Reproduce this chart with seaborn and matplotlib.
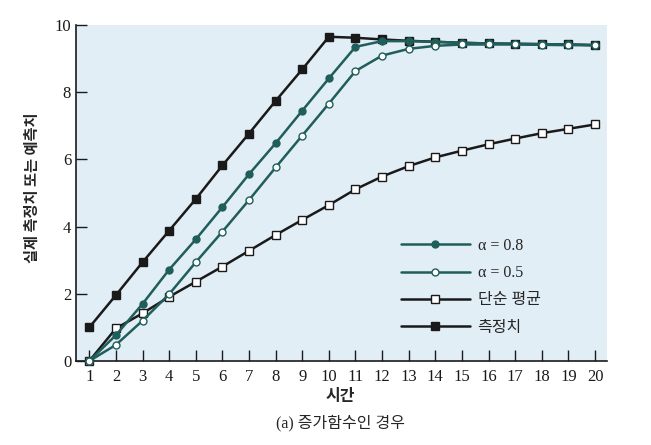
import matplotlib
matplotlib.use("Agg")
import matplotlib.pyplot as plt
import seaborn as sns

# 시간 (x axis)
time = list(range(1, 21))

# 측정치
measured = [1.0, 1.96, 2.94, 3.88, 4.82, 5.82, 6.77, 7.74, 8.68, 9.65,
            9.62, 9.57, 9.53, 9.50, 9.47, 9.45, 9.44, 9.43, 9.42, 9.40]
# 지수평활 alpha = 0.8
alpha08 = [0.0, 0.77, 1.70, 2.72, 3.62, 4.58, 5.56, 6.48, 7.45, 8.41,
           9.35, 9.52, 9.52, 9.50, 9.47, 9.45, 9.44, 9.43, 9.42, 9.40]
# 지수평활 alpha = 0.5
alpha05 = [0.0, 0.48, 1.20, 1.99, 2.94, 3.85, 4.79, 5.76, 6.71, 7.66,
           8.63, 9.09, 9.29, 9.38, 9.42, 9.42, 9.42, 9.41, 9.40, 9.40]
# 단순 평균
simple_avg = [0.0, 0.97, 1.42, 1.91, 2.36, 2.81, 3.28, 3.75, 4.20, 4.64,
              5.11, 5.49, 5.80, 6.06, 6.26, 6.45, 6.62, 6.78, 6.91, 7.04]

labels = ["α = 0.8", "α = 0.5", "단순 평균", "측정치"]
x_ticks = list(range(1, 21))
y_ticks = [0, 2, 4, 6, 8, 10]

TEAL = "#1f5e5a"
DARK = "#1a1a1a"

sns.set_style("ticks")
plt.rcParams["font.family"] = ["Liberation Serif", "Noto Sans CJK KR"]

fig = plt.figure(figsize=(6.51, 4.45), dpi=100)
ax = fig.add_axes([76 / 651, 1 - 361 / 445, (607 - 76) / 651, (361 - 25) / 445])
ax.set_facecolor("#e2eef6")

common = dict(ax=ax, linewidth=1.8, clip_on=False, markeredgewidth=1.0)

# draw order: measured under the forecasts
sns.lineplot(x=time, y=measured, color=DARK, marker="s", markersize=6,
             markerfacecolor=DARK, markeredgecolor=DARK, label=labels[3],
             zorder=3, **common)
sns.lineplot(x=time, y=simple_avg, color=DARK, marker="s", markersize=6,
             markerfacecolor="white", markeredgecolor=DARK, label=labels[2],
             zorder=4, **common)
sns.lineplot(x=time, y=alpha08, color=TEAL, marker="o", markersize=5,
             markerfacecolor=TEAL, markeredgecolor=TEAL, label=labels[0],
             zorder=5, **common)
sns.lineplot(x=time, y=alpha05, color=TEAL, marker="o", markersize=5,
             markerfacecolor="white", markeredgecolor=TEAL, label=labels[1],
             zorder=6, **common)

ax.set_xlim(0.5, 20.45)
ax.set_ylim(0, 10)
ax.set_xticks(x_ticks)
ax.set_yticks(y_ticks)
ax.tick_params(direction="in", length=8, width=1.0, labelsize=12, colors=DARK)
ax.tick_params(axis="x", pad=6)
for side in ["top", "right"]:
    ax.spines[side].set_visible(False)
for side in ["left", "bottom"]:
    ax.spines[side].set_linewidth(1.2)
    ax.spines[side].set_color(DARK)
ax.set_xlabel("")
ax.set_ylabel("")

# legend in the order of the reference
handles, labs = ax.get_legend_handles_labels()
order = [labs.index(l) for l in labels]
ax.legend([handles[i] for i in order], [labs[i] for i in order],
          loc="upper left", bbox_to_anchor=(401 / 651, 1 - 238 / 445),
          bbox_transform=fig.transFigure, frameon=False, fontsize=11.5,
          handlelength=4.3, handletextpad=0.5, labelspacing=0.7,
          borderpad=0, borderaxespad=0, numpoints=1)

fig.text(32 / 651, 1 - 188 / 445, "실제 측정치 또는 예측치", rotation=90,
         ha="center", va="center", fontsize=11, fontweight="bold",
         family=["Noto Sans CJK KR"])
fig.text(340 / 651, 1 - 396 / 445, "시간", ha="center", va="center",
         fontsize=11.5, fontweight="bold", family=["Noto Sans CJK KR"])
fig.text(340 / 651, 1 - 423 / 445, "(a) 증가함수인 경우", ha="center",
         va="center", fontsize=11.5)

fig.savefig("out.png", dpi=100)
